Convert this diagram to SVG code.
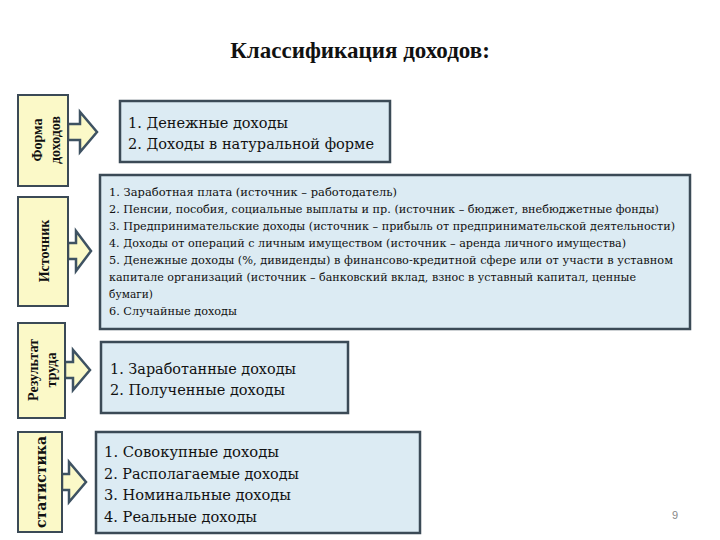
<svg xmlns="http://www.w3.org/2000/svg" width="720" height="540" viewBox="0 0 720 540">
<style>
.y{fill:#fbf9c8;stroke:#3b4a56;stroke-width:2}
.b{fill:#dcebf3;stroke:#3b4a56;stroke-width:2.5}
.a{fill:#fbf9c8;stroke:#3e5262;stroke-width:2.5;stroke-linejoin:miter}
.s{font-family:"DejaVu Serif","Liberation Serif",serif;fill:#111}
.h{font-family:"Liberation Serif","DejaVu Serif",serif;fill:#111}
.v{font-size:14px;font-weight:bold;text-anchor:middle}
.t1{font-size:14.5px}
.t2{font-size:10.5px}
</style>
<rect width="720" height="540" fill="#fff"/>
<text class="h" x="360" y="58" text-anchor="middle" font-size="23" font-weight="bold">Классификация доходов:</text>
<g id="connectors">
<path class="a" d="M68,124 H80 V112 L97,132 L80,152 V140 H68 Z"/>
<path class="a" d="M68,243 H76 V231 L91,251 L76,271 V259 H68 Z"/>
<path class="a" d="M65,362 H73 V350 L90,370 L73,390 V378 H65 Z"/>
<path class="a" d="M62,474 H69 V462 L86,482 L69,502 V490 H62 Z"/>
</g>
<g id="n1"><rect class="y" x="18" y="95" width="50" height="91"/>
<text class="h v" font-size="15" transform="translate(42,140) rotate(-90)">Форма</text>
<text class="h v" font-size="15" transform="translate(60,140) rotate(-90)">доходов</text></g>
<g id="n2"><rect class="y" x="18" y="197" width="50" height="109"/>
<text class="h v" font-size="17" transform="translate(49,251) rotate(-90)">Источник</text></g>
<g id="n3"><rect class="y" x="18" y="323" width="47" height="95"/>
<text class="h v" font-size="15" transform="translate(38,370) rotate(-90)">Результат</text>
<text class="h v" font-size="15" transform="translate(56,370) rotate(-90)">труда</text></g>
<g id="n4"><rect class="y" x="18" y="432" width="44" height="100"/>
<text class="s v" font-weight="normal" font-size="15" transform="translate(46,482) rotate(-90)">статистика</text></g>
<g id="b1"><rect class="b" x="120" y="101" width="270" height="61"/>
<text class="s t1" x="128" y="128" textLength="160" lengthAdjust="spacingAndGlyphs">1. Денежные доходы</text>
<text class="s t1" x="128" y="149" textLength="246" lengthAdjust="spacingAndGlyphs">2. Доходы в натуральной форме</text></g>
<g id="b2"><rect class="b" x="100" y="175" width="590" height="154"/>
<text class="s t2" x="109" y="196" textLength="288" lengthAdjust="spacingAndGlyphs">1. Заработная плата (источник – работодатель)</text>
<text class="s t2" x="109" y="213" textLength="550" lengthAdjust="spacingAndGlyphs">2. Пенсии, пособия, социальные выплаты и пр. (источник – бюджет, внебюджетные фонды)</text>
<text class="s t2" x="109" y="230" textLength="566" lengthAdjust="spacingAndGlyphs">3. Предпринимательские доходы (источник – прибыль от предпринимательской деятельности)</text>
<text class="s t2" x="109" y="247" textLength="517" lengthAdjust="spacingAndGlyphs">4. Доходы от операций с личным имуществом (источник – аренда личного имущества)</text>
<text class="s t2" x="109" y="264" textLength="564" lengthAdjust="spacingAndGlyphs">5. Денежные доходы (%, дивиденды) в финансово-кредитной сфере или от участи в уставном</text>
<text class="s t2" x="109" y="281" textLength="527" lengthAdjust="spacingAndGlyphs">капитале организаций (источник – банковский вклад, взнос в уставный капитал, ценные</text>
<text class="s t2" x="109" y="298" textLength="44" lengthAdjust="spacingAndGlyphs">бумаги)</text>
<text class="s t2" x="109" y="315" textLength="128" lengthAdjust="spacingAndGlyphs">6. Случайные доходы</text></g>
<g id="b3"><rect class="b" x="101" y="342" width="247" height="71"/>
<text class="s t1" x="110" y="374" textLength="186" lengthAdjust="spacingAndGlyphs">1. Заработанные доходы</text>
<text class="s t1" x="110" y="395" textLength="175" lengthAdjust="spacingAndGlyphs">2. Полученные доходы</text></g>
<g id="b4"><rect class="b" x="96" y="432" width="324" height="101"/>
<text class="s t1" x="104" y="457" textLength="175" lengthAdjust="spacingAndGlyphs">1. Совокупные доходы</text>
<text class="s t1" x="104" y="479" textLength="195" lengthAdjust="spacingAndGlyphs">2. Располагаемые доходы</text>
<text class="s t1" x="104" y="500" textLength="187" lengthAdjust="spacingAndGlyphs">3. Номинальные доходы</text>
<text class="s t1" x="104" y="522" textLength="153" lengthAdjust="spacingAndGlyphs">4. Реальные доходы</text></g>
<text x="672" y="519" font-size="11" style="fill:#888;font-family:'Liberation Sans',sans-serif">9</text>
</svg>
